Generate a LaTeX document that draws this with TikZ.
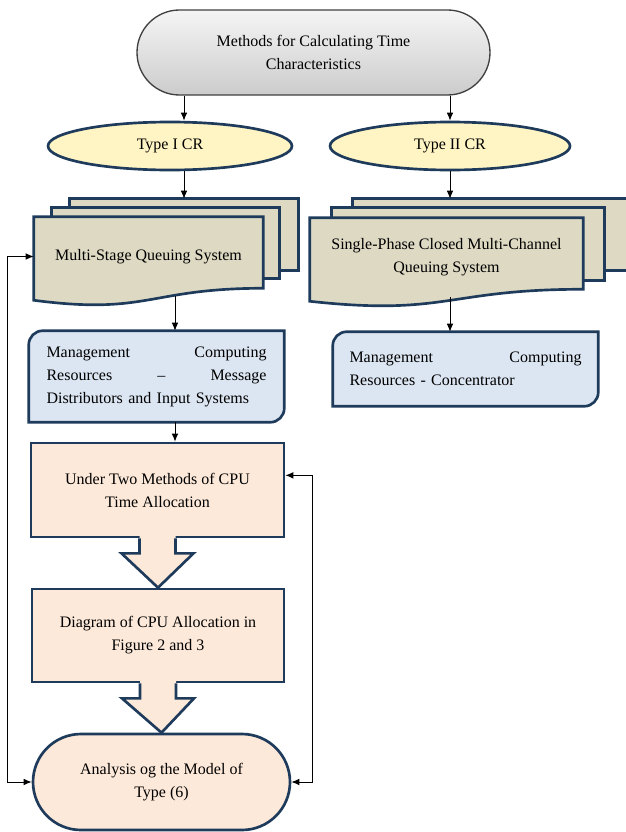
\documentclass[tikz,border=0pt]{standalone}
\usepackage{fontspec}
\setmainfont{Liberation Serif}
\usepackage{tikz}
\usetikzlibrary{calc,positioning,shapes.geometric,shapes.misc,backgrounds,arrows.meta}
\definecolor{navyline}{HTML}{1F3B5C}
\definecolor{docfill}{HTML}{DDD9C3}
\definecolor{typefill}{HTML}{FFF5C4}
\definecolor{bluefill}{HTML}{DCE6F2}
\definecolor{peachfill}{HTML}{FDE9D9}

\begin{document}
\begin{tikzpicture}[x=0.75pt,y=-0.75pt]
  \newcommand{\pu}{0.75pt}
  \newcommand{\rr}{10.5pt}
  \newcommand{\gap}{\hskip 0pt plus 1filll\relax}
  \useasboundingbox (0,0) rectangle (625,832);
  \tikzstyle{every node}=[font=\fontsize{12}{17.25}\selectfont, inner sep=0pt]
  \tikzstyle{navyborder}=[draw=navyline, line width=2pt]
  \tikzstyle{conn}=[line width=0.75pt, -{Latex[length=6pt,width=5pt]}]
  \tikzstyle{twoway}=[line width=0.75pt, {Latex[length=6pt,width=5pt]}-{Latex[length=6pt,width=5pt]}]
  \tikzstyle{typebox}=[ellipse, navyborder, fill=typefill, minimum height=48*\pu]
  \tikzstyle{peachbox}=[rectangle, navyborder, fill=peachfill, align=center]
  \tikzstyle{bluebox}=[rectangle, align=left]
  \newcommand{\blockarrow}[2]{
    \fill[peachfill] ($(#1.south)+(-18,-3)$) -- ($(#1.south)+(-18,15)$) -- ($(#1.south)+(-36,15)$)
      -- (#2.north) -- ($(#1.south)+(36,15)$) -- ($(#1.south)+(18,15)$) -- ($(#1.south)+(18,-3)$) -- cycle;
    \draw[navyborder] ($(#1.south)+(-18,0)$) -- ($(#1.south)+(-18,15)$) -- ($(#1.south)+(-36,15)$)
      -- (#2.north) -- ($(#1.south)+(36,15)$) -- ($(#1.south)+(18,15)$) -- ($(#1.south)+(18,0)$);
  }

  % top of the chart
  \node[rounded rectangle, draw=black!75, line width=1pt, top color=gray!8, bottom color=gray!40,
    minimum width=353*\pu, minimum height=85*\pu, align=center] (calc) at (313.5,52.5)
    {Methods for Calculating Time\\Characteristics};
  \node[typebox, minimum width=244*\pu] (typeA) at (170,146) {Type I CR};
  \node[typebox, minimum width=240*\pu] (typeB) at (450,146) {Type II CR};

  % stacked documents
  \node[minimum width=228*\pu, minimum height=71*\pu] (doc1c) at (184,234.5) {};
  \node[minimum width=227*\pu, minimum height=70*\pu] (doc1b) at (165.5,243) {};
  \node[minimum width=229*\pu, minimum height=79*\pu, align=center] (doc1a) at (148.5,256.5)
    {Multi-Stage Queuing System};
  \node[minimum width=304*\pu, minimum height=71*\pu] (doc2c) at (505,234.5) {};
  \node[minimum width=272*\pu, minimum height=72*\pu] (doc2b) at (468,244) {};
  \node[minimum width=273*\pu, minimum height=79*\pu, align=center] (doc2a) at (446.5,257.5)
    {Single-Phase Closed Multi-Channel\\Queuing System};

  % resource boxes
  \node[bluebox, text width=220*\pu, minimum width=255*\pu, minimum height=91*\pu] (blue1) at (156.5,376.5)
    {Management\gap Computing\\Resources\gap --\gap Message\\Distributors and Input Systems};
  \node[bluebox, text width=232*\pu, minimum width=265*\pu, minimum height=74*\pu] (blue2) at (465.5,369)
    {Management\gap Computing\\Resources - Concentrator};

  % CPU allocation
  \node[peachbox, minimum width=253*\pu, minimum height=94*\pu] (under) at (157.5,490)
    {Under Two Methods of CPU\\Time Allocation};
  \node[peachbox, minimum width=252*\pu, minimum height=93*\pu] (diagram) at (158,635.5)
    {Diagram of CPU Allocation in\\Figure 2 and 3};
  \node[rounded rectangle, navyborder, fill=peachfill, minimum width=257*\pu, minimum height=96*\pu,
    align=center] (final) at (161.5,782) {Analysis og the Model of\\Type (6)};

  \begin{scope}[on background layer]
    \foreach \docname in {doc1c,doc1b,doc2c,doc2b}
      \draw[navyborder, fill=docfill] (\docname.south west) rectangle (\docname.north east);
    \foreach \docname in {doc1a,doc2a}
      \draw[navyborder, fill=docfill] ($(\docname.south west)+(0,4)$) -- (\docname.north west)
        -- (\docname.north east) -- ($(\docname.south east)+(0,-8)$)
        .. controls ($(\docname.south)+(0,-8)$) and ($(\docname.south)+(0,19)$) .. ($(\docname.south west)+(0,4)$)
        -- cycle;
    \foreach \bx in {blue1,blue2}
      \draw[navyborder, fill=bluefill] ($(\bx.north west)+(0,14)$) arc[start angle=180, end angle=90, radius=\rr]
        -- (\bx.north east) -- ($(\bx.south east)+(0,-14)$) arc[start angle=0, end angle=-90, radius=\rr]
        -- (\bx.south west) -- cycle;
  \end{scope}

  \coordinate (colA) at (175,0);
  \foreach \src/\dst/\col in {calc/typeA/doc1c, typeA/doc1c/doc1c, calc/typeB/typeB, typeB/doc2c/typeB,
      doc2a/blue2/typeB, doc1a/blue1/colA, blue1/under/colA}
    \draw[conn] (\src.south -| \col) -- (\dst.north -| \col);

  \blockarrow{under}{diagram}
  \blockarrow{diagram}{final}

  % feedback loops
  \draw[twoway] (doc1a.west) -- ++(-26,0) |- (final.west);
  \draw[twoway] ([yshift=11pt]under.east) -- ++(27,0) |- (final.east);
\end{tikzpicture}
\end{document}
